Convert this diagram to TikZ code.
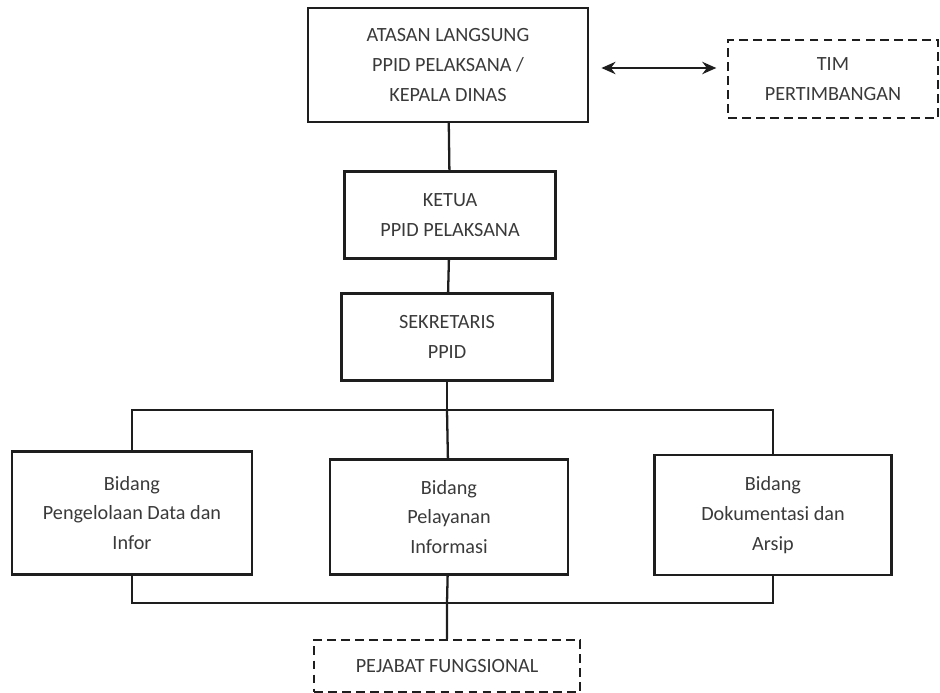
\documentclass[tikz,border=0pt]{standalone}
\usepackage{fontspec}
\setmainfont{Carlito}
\usepackage{tikz}
\usetikzlibrary{arrows.meta}
\definecolor{ink}{HTML}{1E1E1E}
\definecolor{txt}{HTML}{3A3A3A}
\tikzset{
  unit/.style={draw=ink, line width=1.3pt, align=center, text=txt, font=\fontsize{11.5}{17}\selectfont, inner sep=0pt},
  unitdash/.style={unit, dashed, dash pattern=on 5pt off 3pt},
  link/.style={draw=ink, line width=1.3pt}
}

\begin{document}
\begin{tikzpicture}[x=0.02cm, y=-0.02cm]
      \useasboundingbox (0,0) rectangle (940,693);
      \node[unit, minimum width=5.6cm, minimum height=2.28cm] at (448, 65) (atasan) {ATASAN LANGSUNG\\PPID PELAKSANA /\\KEPALA DINAS};
      \node[unitdash, minimum width=4.2cm, minimum height=1.56cm] at (833, 79) (tim) {TIM\\PERTIMBANGAN};
      \draw[link, {Stealth[length=8pt,width=7pt]}-{Stealth[length=8pt,width=7pt]}, shorten <=7, shorten >=6] ([yshift=-0.06cm]atasan.east) -- ([yshift=-0.06cm]atasan.east -| tim.west);
      \node[unit, minimum width=4.22cm, minimum height=1.74cm] at (450, 215) (ketua) {KETUA\\PPID PELAKSANA};
      \draw[link] (atasan) -- (ketua);
      \node[unit, minimum width=4.22cm, minimum height=1.74cm] at (447, 337) (sekre) {SEKRETARIS\\PPID};
      \draw[link] (ketua) -- (sekre);
      \node[unit, minimum width=4.8cm, minimum height=2.46cm] at (132, 513) (olahdata) {Bidang\\Pengelolaan Data dan\\Infor};
      \node[unit, minimum width=4.76cm, minimum height=2.3cm] at (449, 517) (layanan) {Bidang\\Pelayanan\\Informasi};
      \node[unit, minimum width=4.74cm, minimum height=2.4cm] at (773, 515) (arsip) {Bidang\\Dokumentasi dan\\Arsip};
      \coordinate (atas) at (447, 410);
      \coordinate (bawah) at (447, 603);
      \draw[link] (sekre) -- (atas);
      \draw[link] (olahdata.north) |- (atas) -| (arsip.north);
      \draw[link] (atas) -- (layanan);
      \draw[link] (olahdata.south) |- (bawah) -| (arsip.south);
      \node[unitdash, minimum width=5.32cm, minimum height=1.04cm] at (447, 666) (fungsional) {PEJABAT FUNGSIONAL};
      \draw[link] (layanan) -- (bawah) -- (fungsional);
    \end{tikzpicture}
\end{document}
